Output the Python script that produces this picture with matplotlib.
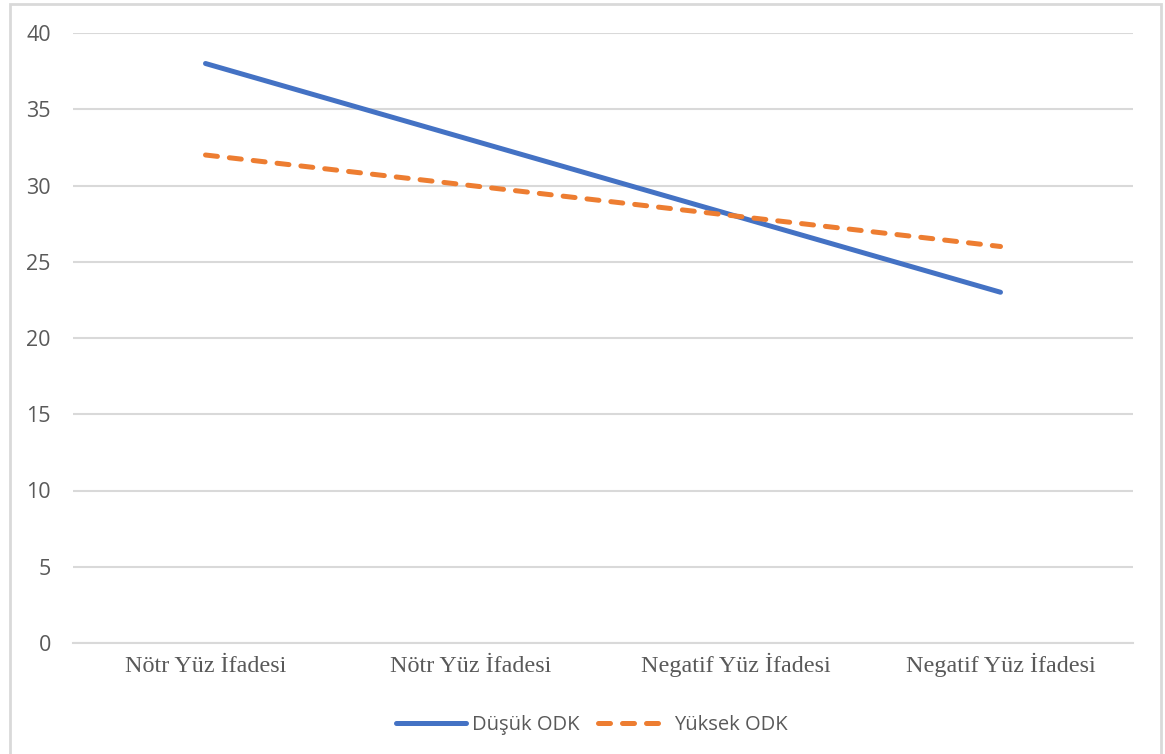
import matplotlib
matplotlib.use("Agg")
import matplotlib.pyplot as plt
from matplotlib.patches import Rectangle

kategoriler = ["Nötr Yüz İfadesi", "Nötr Yüz İfadesi",
               "Negatif Yüz İfadesi", "Negatif Yüz İfadesi"]
dusuk_odk = [38, 33, 28, 23]
yuksek_odk = [32, 30, 28, 26]
y_ticks = [0, 5, 10, 15, 20, 25, 30, 35, 40]

MAVI = "#4472C4"
TURUNCU = "#ED7D31"
GRI_YAZI = "#595959"
GRI_CIZGI = "#D9D9D9"

W, H = 1165, 754
fig = plt.figure(figsize=(W / 100, H / 100), dpi=100)
ax = fig.add_axes([73 / W, 1 - 643 / H, 1060 / W, 610 / H])

x = range(len(kategoriler))
ax.plot(x, dusuk_odk, color=MAVI, lw=3.6, solid_capstyle="round",
        label="Düşük ODK", zorder=3)
ax.plot(x, yuksek_odk, color=TURUNCU, lw=3.6, dashes=(2.4, 2.4),
        dash_capstyle="round", label="Yüksek ODK", zorder=3)

ax.set_xlim(-0.5, len(kategoriler) - 0.5)
ax.set_ylim(0, 40)
ax.set_yticks(y_ticks)
ax.set_yticklabels([str(v) for v in y_ticks], fontfamily="Open Sans",
                   fontsize=15.5, color=GRI_YAZI)
ax.set_xticks(list(x))
ax.set_xticklabels(kategoriler, fontfamily="Liberation Serif",
                   fontsize=17.4, color=GRI_YAZI, va="baseline")
ax.tick_params(axis="y", length=0, pad=16)
ax.tick_params(axis="x", length=0, pad=21)
ax.grid(axis="y", color=GRI_CIZGI, lw=1.5)
ax.set_axisbelow(True)
for s in ax.spines.values():
    s.set_visible(False)
ax.spines["bottom"].set_visible(True)
ax.spines["bottom"].set_color(GRI_CIZGI)
ax.spines["bottom"].set_linewidth(1.5)

leg = fig.legend(loc="center", bbox_to_anchor=(592 / W, 1 - 725 / H), ncol=2,
                 frameon=False, handlelength=3.5, columnspacing=0.9,
                 handletextpad=0.3,
                 prop={"family": "Open Sans", "size": 14.5})
for t in leg.get_texts():
    t.set_color(GRI_YAZI)

# dış çerçeve
fig.patches.append(Rectangle((10 / W, -0.02), 1151 / W, 1 - 4 / H + 0.02,
                             transform=fig.transFigure, fill=False,
                             edgecolor=GRI_CIZGI, lw=2))

fig.savefig("out.png", dpi=100)
